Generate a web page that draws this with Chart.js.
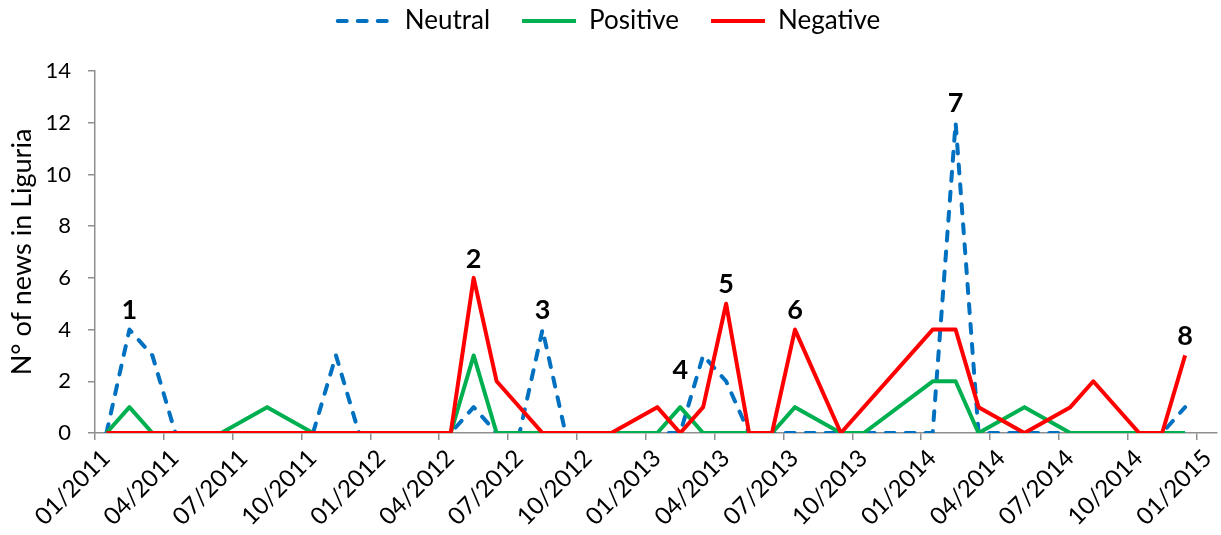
<!DOCTYPE html>
<html>
<head>
<meta charset="utf-8">
<script src="https://cdn.jsdelivr.net/npm/chart.js@4.4.1/dist/chart.umd.min.js"></script>
<style>
  html, body { margin: 0; padding: 0; background: #ffffff; }
  canvas { display: block; }
</style>
</head>
<body>
<canvas id="chart" width="1221" height="535"></canvas>
<script>
// Monthly number of news items about Liguria, split by tone.
// Each series lists only the months where it has an entry.
const neutralMonths = ['2011-01','2011-02','2011-03','2011-04','2011-10','2011-11','2011-12',
  '2012-04','2012-05','2012-06','2012-07','2012-08','2012-09',
  '2013-02','2013-03','2013-04','2013-05','2014-01','2014-02','2014-03','2014-11','2014-12'];
const neutralValues = [0,4,3,0,0,3,0, 0,1,0,0,4,0, 0,3,2,0,0,12,0,0,1];

const positiveMonths = ['2011-01','2011-02','2011-03','2011-06','2011-08','2011-10',
  '2012-04','2012-05','2012-06','2013-01','2013-02','2013-03','2013-06','2013-07','2013-09','2013-10',
  '2014-01','2014-02','2014-03','2014-05','2014-07','2014-12'];
const positiveValues = [0,1,0,0,1,0, 0,3,0,0,1,0,0,1,0,0, 2,2,0,1,0,0];

const negativeMonths = ['2011-01','2012-04','2012-05','2012-06','2012-08','2012-11',
  '2013-01','2013-02','2013-03','2013-04','2013-05','2013-06','2013-07','2013-09',
  '2014-01','2014-02','2014-03','2014-05','2014-07','2014-08','2014-10','2014-11','2014-12'];
const negativeValues = [0,0,6,2,0,0, 1,0,1,5,0,0,4,0, 4,4,1,0,1,2,0,0,3];

// Axis ticks
const tickMonths = ['2011-01','2011-04','2011-07','2011-10','2012-01','2012-04','2012-07','2012-10',
  '2013-01','2013-04','2013-07','2013-10','2014-01','2014-04','2014-07','2014-10','2015-01'];
const yTickValues = [0,2,4,6,8,10,12,14];

// Numbered events, each placed above one point of a series
const eventLabels = ['1','2','3','4','5','6','7','8'];
const eventSeries = ['Neutral','Negative','Neutral','Positive','Negative','Negative','Neutral','Negative'];
const eventMonths = ['2011-02','2012-05','2012-08','2013-02','2013-04','2013-07','2014-02','2014-12'];

const BASE_YEAR = 2011;
function monthIndex(s) {
  const [y, m] = s.split('-').map(Number);
  return (y - BASE_YEAR) * 12 + (m - 1);
}
function monthLabel(i) {
  const y = BASE_YEAR + Math.floor(i / 12);
  const m = (i % 12) + 1;
  return String(m).padStart(2, '0') + '/' + y;
}
// points sit in the middle of their month
function toPoints(months, values) {
  return months.map((s, i) => ({ x: monthIndex(s) + 0.5, y: values[i] }));
}

const seriesByName = {
  Neutral: { months: neutralMonths, values: neutralValues },
  Positive: { months: positiveMonths, values: positiveValues },
  Negative: { months: negativeMonths, values: negativeValues }
};

const FONT = 'Lato, "Open Sans", "DejaVu Sans", sans-serif';
const AXIS_GREY = '#8f8f8f';
Chart.defaults.color = '#000000';
Chart.defaults.font.family = FONT;

// Legend band height (so the plot starts below it)
const legendBand = {
  id: 'legendBand',
  afterInit(chart, args, opts) {
    const legend = chart.legend;
    if (!legend) return;
    const fit = legend.fit;
    legend.fit = function () {
      fit.call(this);
      this.height = opts.height;
    };
  }
};

// Numbered event markers
const eventMarkers = {
  id: 'eventMarkers',
  afterDatasetsDraw(chart, args, opts) {
    const { ctx, scales: { x, y } } = chart;
    ctx.save();
    ctx.font = opts.font;
    ctx.fillStyle = opts.color;
    ctx.textAlign = 'center';
    ctx.textBaseline = 'middle';
    eventLabels.forEach((txt, i) => {
      const s = seriesByName[eventSeries[i]];
      const k = s.months.indexOf(eventMonths[i]);
      const px = x.getPixelForValue(monthIndex(eventMonths[i]) + 0.5);
      const py = y.getPixelForValue(s.values[k]);
      const lift = (opts.lift[txt] !== undefined) ? opts.lift[txt] : opts.defaultLift;
      ctx.fillText(txt, px, py - lift);
    });
    ctx.restore();
  }
};

const lineCommon = {
  borderWidth: 4,
  pointRadius: 0,
  pointHoverRadius: 0,
  pointStyle: 'line',
  tension: 0,
  fill: false,
  borderJoinStyle: 'round',
  borderCapStyle: 'round'
};

new Chart(document.getElementById('chart'), {
  type: 'line',
  data: {
    datasets: [
      Object.assign({}, lineCommon, {
        label: 'Neutral',
        data: toPoints(neutralMonths, neutralValues),
        borderColor: '#0070C0',
        backgroundColor: '#0070C0',
        borderDash: [9, 11],
        order: 3
      }),
      Object.assign({}, lineCommon, {
        label: 'Positive',
        data: toPoints(positiveMonths, positiveValues),
        borderColor: '#00B050',
        backgroundColor: '#00B050',
        borderCapStyle: 'butt',
        order: 2
      }),
      Object.assign({}, lineCommon, {
        label: 'Negative',
        data: toPoints(negativeMonths, negativeValues),
        borderColor: '#FF0000',
        backgroundColor: '#FF0000',
        borderCapStyle: 'butt',
        order: 1
      })
    ]
  },
  options: {
    responsive: false,
    animation: false,
    events: [],
    layout: { padding: { top: -24, right: 3, bottom: 0, left: 0 } },
    plugins: {
      tooltip: { enabled: false },
      legend: {
        position: 'top',
        labels: {
          usePointStyle: true,
          pointStyleWidth: 54,
          boxHeight: 4,
          padding: 32,
          font: { size: 26, family: FONT },
          color: '#000000',
          sort: (a, b) => a.datasetIndex - b.datasetIndex,
          generateLabels(chart) {
            const items = Chart.defaults.plugins.legend.labels.generateLabels(chart);
            items.forEach(item => {
              const ds = chart.data.datasets[item.datasetIndex];
              item.pointStyle = 'line';
              item.lineWidth = ds.borderWidth;
              item.strokeStyle = ds.borderColor;
              item.lineDash = ds.borderDash || [];
              item.lineCap = ds.borderCapStyle || 'butt';
            });
            return items;
          }
        }
      },
      legendBand: { height: 95 },
      eventMarkers: {
        font: 'bold 27px ' + FONT,
        color: '#000000',
        defaultLift: 19,
        lift: { '4': 37 }
      }
    },
    scales: {
      x: {
        type: 'linear',
        min: 0,
        max: 48.9,
        afterBuildTicks(scale) {
          scale.ticks = tickMonths.map(s => ({ value: monthIndex(s) }));
        },
        afterFit(scale) { scale.height = 102; },
        grid: {
          display: true,
          drawOnChartArea: false,
          drawTicks: true,
          tickLength: 7,
          color: AXIS_GREY,
          lineWidth: 1.5
        },
        border: { display: true, color: AXIS_GREY, width: 1.5 },
        ticks: {
          autoSkip: false,
          minRotation: 45,
          maxRotation: 45,
          padding: 4,
          labelOffset: 11,
          font: { size: 24, family: FONT },
          color: '#000000',
          callback: (v) => monthLabel(v)
        }
      },
      y: {
        type: 'linear',
        min: 0,
        max: 14,
        afterBuildTicks(scale) {
          scale.ticks = yTickValues.map(v => ({ value: v }));
        },
        afterFit(scale) { scale.width = 95; },
        grid: {
          display: true,
          drawOnChartArea: false,
          drawTicks: true,
          tickLength: 7,
          color: AXIS_GREY,
          lineWidth: 1.5
        },
        border: { display: true, color: AXIS_GREY, width: 1.5 },
        ticks: {
          padding: 17,
          font: { size: 22, family: FONT },
          color: '#000000'
        },
        title: {
          display: true,
          text: 'N° of news in Liguria',
          font: { size: 27, family: FONT },
          color: '#000000',
          padding: { top: 6, bottom: 0 }
        }
      }
    }
  },
  plugins: [legendBand, eventMarkers]
});
</script>
</body>
</html>
